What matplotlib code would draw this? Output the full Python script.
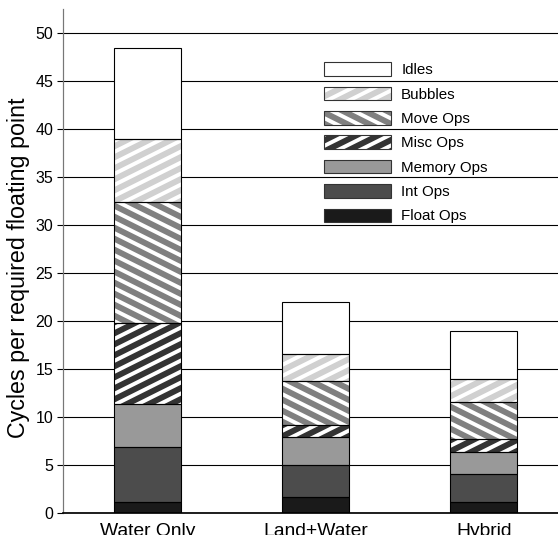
import numpy as np
import matplotlib
matplotlib.use('Agg')
import matplotlib.pyplot as plt
import matplotlib.hatch as mhatch
from matplotlib.path import Path
from matplotlib.patches import Patch
from matplotlib.legend_handler import HandlerTuple

# ---------------- data ----------------
categories = ['Water Only', 'Land+Water', 'Hybrid']
series_names = ['Float Ops', 'Int Ops', 'Memory Ops', 'Misc Ops', 'Move Ops', 'Bubbles', 'Idles']
float_ops = [1.10, 1.64, 1.15]
int_ops = [5.75, 3.40, 2.92]
memory_ops = [4.48, 2.85, 2.33]
misc_ops = [8.45, 1.29, 1.28]
move_ops = [12.62, 4.52, 3.86]
bubbles = [6.60, 2.90, 2.46]
idles = [9.45, 5.40, 4.95]
y_ticks = [0, 5, 10, 15, 20, 25, 30, 35, 40, 45, 50]

series = [float_ops, int_ops, memory_ops, misc_ops, move_ops, bubbles, idles]
faces = ['#1a1a1a', '#4c4c4c', '#999999', '#333333', '#808080', '#d0d0d0', '#ffffff']
hatches = [None, None, None, '/', '\\', '/', None]

# ---------------- custom shallow diagonal hatch ----------------
N_LINES = 8


class ShallowNE(mhatch.HatchPatternBase):
    def __init__(self, hatch, density):
        self.ks = np.arange(-N_LINES, 2 * N_LINES + 1)
        self.num_vertices = 2 * len(self.ks) if hatch.count('/') else 0

    def set_vertices_and_codes(self, vertices, codes):
        c = self.ks / N_LINES
        vertices[0::2, 0] = -0.5
        vertices[0::2, 1] = c - 0.25
        vertices[1::2, 0] = 1.5
        vertices[1::2, 1] = c + 0.75
        codes[0::2] = Path.MOVETO
        codes[1::2] = Path.LINETO


class ShallowSE(mhatch.HatchPatternBase):
    def __init__(self, hatch, density):
        self.ks = np.arange(-N_LINES, 2 * N_LINES + 1)
        self.num_vertices = 2 * len(self.ks) if hatch.count('\\') else 0

    def set_vertices_and_codes(self, vertices, codes):
        c = self.ks / N_LINES
        vertices[0::2, 0] = -0.5
        vertices[0::2, 1] = c + 0.25
        vertices[1::2, 0] = 1.5
        vertices[1::2, 1] = c - 0.75
        codes[0::2] = Path.MOVETO
        codes[1::2] = Path.LINETO


mhatch._hatch_types = [ShallowNE if t is mhatch.NorthEastHatch else
                       ShallowSE if t is mhatch.SouthEastHatch else t
                       for t in mhatch._hatch_types]

plt.rcParams['font.family'] = ['Liberation Sans', 'DejaVu Sans']
plt.rcParams['hatch.linewidth'] = 3.2

DPI = 88
W, H = 558, 535
fig = plt.figure(figsize=(W / DPI, H / DPI), dpi=DPI)
ax = fig.add_axes([63.3 / W, 22 / H, (W - 63.3) / W, 504 / H])

x = np.arange(len(categories))
width = 0.40
bottom = np.zeros(len(categories))
legend_handles = []
for name, vals, face, hatch in zip(series_names, series, faces, hatches):
    ax.bar(x, vals, width, bottom=bottom, color=face, hatch=hatch,
           edgecolor='white', linewidth=0, zorder=2)
    ax.bar(x, vals, width, bottom=bottom, fill=False,
           edgecolor='black', linewidth=0.9, zorder=3)
    bottom = bottom + np.array(vals)
    legend_handles.append((Patch(facecolor=face, hatch=hatch, edgecolor='white', linewidth=0),
                           Patch(fill=False, edgecolor='#333333', linewidth=0.9)))

ax.set_xlim(-0.501, 2.442)
ax.set_ylim(0, 52.5)
ax.set_yticks(y_ticks)
ax.set_xticks(x)
ax.set_xticklabels(categories, fontsize=15.8)
ax.tick_params(axis='y', labelsize=13.1, length=4.9, width=0.9, color='black', pad=3.5)
ax.tick_params(axis='x', length=0, pad=8)
ax.yaxis.grid(True, color='black', linewidth=0.9)
ax.set_axisbelow(True)

for s in ['top', 'right']:
    ax.spines[s].set_visible(False)
ax.spines['left'].set_color('#777777')
ax.spines['left'].set_linewidth(1.0)
ax.spines['bottom'].set_color('black')
ax.spines['bottom'].set_linewidth(1.4)
ax.spines['bottom'].set_zorder(4)

ax.set_ylabel('Cycles per required floating point', fontsize=19)
ax.yaxis.set_label_coords(-0.068, 0.487)

leg = fig.legend(legend_handles[::-1], series_names[::-1],
                 handler_map={tuple: HandlerTuple(ndivide=1, pad=0.0)},
                 loc='upper left', bbox_to_anchor=(323.7 / W, 1 - 62.3 / H),
                 frameon=False, fontsize=12.4, borderpad=0, borderaxespad=0,
                 handlelength=4.47, handleheight=1.0, handletextpad=0.64,
                 labelspacing=0.62)

fig.savefig('out.png', dpi=DPI)
